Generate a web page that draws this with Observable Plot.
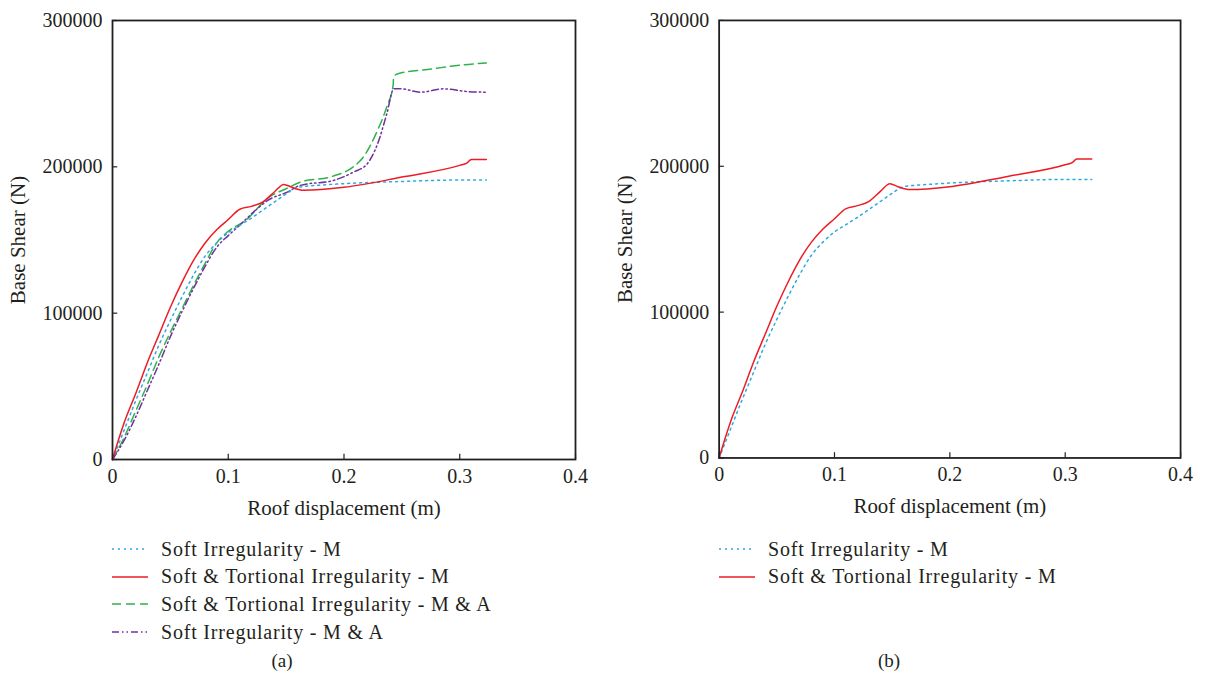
<!DOCTYPE html>
<html>
<head>
<meta charset="utf-8">
<script src="https://cdn.jsdelivr.net/npm/d3@7"></script>
<script src="https://cdn.jsdelivr.net/npm/@observablehq/plot@0.6"></script>
<style>
  html, body { margin: 0; padding: 0; background: #fff; }
  #wrap { position: relative; width: 1205px; height: 684px; font-family: "Liberation Serif", serif; color: #231f20; }
  .panel { position: absolute; top: 0; }
  .legend { position: absolute; font-size: 20px; letter-spacing: 0.8px; }
  .legend .row { position: absolute; white-space: nowrap; display: flex; align-items: center; height: 26px; }
  .legend svg { margin-right: 13px; }
  .cap { position: absolute; font-size: 19px; transform: translateX(-50%); }
</style>
</head>
<body>
<div id="wrap"></div>
<script>
// ---- Data ----
const xSoftM = [0, 0.01, 0.02, 0.03, 0.04, 0.05, 0.06, 0.07, 0.08, 0.09, 0.1, 0.11, 0.12, 0.13, 0.14, 0.15, 0.16, 0.18, 0.2, 0.25, 0.3, 0.323];
const ySoftM = [0, 20000, 40000, 59000, 78000, 95000, 111000, 126000, 139000, 148000, 155000, 160000, 165000, 170500, 176000, 181500, 186000, 187500, 188500, 190000, 191000, 191000];

const xSoftTortM = [0, 0.005, 0.01, 0.02, 0.03, 0.04, 0.05, 0.06, 0.07, 0.08, 0.09, 0.1, 0.11, 0.12, 0.13, 0.14, 0.148, 0.155, 0.165, 0.2, 0.25, 0.3, 0.306, 0.31, 0.323];
const ySoftTortM = [0, 13000, 25000, 45000, 66000, 85000, 104000, 121000, 136000, 148000, 157000, 164000, 171000, 173000, 176000, 183000, 188000, 186000, 184000, 186000, 193000, 201000, 202500, 205000, 205000];

const xSoftTortMA = [0, 0.01, 0.02, 0.03, 0.04, 0.05, 0.06, 0.07, 0.08, 0.09, 0.1, 0.116, 0.128, 0.134, 0.15, 0.162, 0.19, 0.208, 0.217, 0.229, 0.237, 0.2425, 0.2428, 0.246, 0.277, 0.3, 0.323];
const ySoftTortMA = [0, 15000, 33000, 51000, 70000, 87000, 103000, 119000, 134000, 148000, 156000, 164000, 174000, 178500, 185000, 189500, 193500, 200000, 207000, 225000, 241000, 256000, 261000, 263500, 267000, 269500, 271000];

const xSoftMA = [0, 0.01, 0.02, 0.03, 0.04, 0.05, 0.06, 0.07, 0.08, 0.09, 0.1, 0.108, 0.125, 0.134, 0.151, 0.162, 0.191, 0.208, 0.22, 0.229, 0.237, 0.243, 0.249, 0.266, 0.286, 0.306, 0.323];
const ySoftMA = [0, 13000, 29000, 47000, 65000, 84000, 101000, 117000, 132000, 145000, 153000, 158700, 171300, 177000, 182700, 187300, 190700, 196300, 202000, 215700, 236300, 253300, 253300, 251000, 253300, 251500, 251000];

const xTicks = [0, 0.1, 0.2, 0.3, 0.4];
const yTicks = [0, 100000, 200000, 300000];

const seriesNames = [
  "Soft Irregularity - M",
  "Soft & Tortional Irregularity - M",
  "Soft & Tortional Irregularity - M & A",
  "Soft Irregularity - M & A"
];
const seriesColors = ["#29abe2", "#ed1c24", "#2db34a", "#7030a0"];
const seriesDash = ["2,4", null, "9,5", "7,3,1.5,3,1.5,3"];

// ---- Build tables ----
const toRows = (xs, ys) => xs.map((x, i) => ({x, y: ys[i]}));
const series = [
  toRows(xSoftM, ySoftM),
  toRows(xSoftTortM, ySoftTortM),
  toRows(xSoftTortMA, ySoftTortMA),
  toRows(xSoftMA, ySoftMA)
];

const ink = "#231f20";
const font = "Liberation Serif, Times New Roman, serif";
const rank = {2: 0, 3: 1, 0: 2, 1: 3};

function makePlot(which) {
  const drawOrder = which.slice().sort((a, b) => rank[a] - rank[b]);
  return Plot.plot({
    width: 600,
    height: 530,
    marginLeft: 112,
    marginRight: 25,
    marginTop: 20,
    marginBottom: 71,
    style: {fontFamily: font, fontSize: "20px", color: ink, background: "white"},
    x: {domain: [0, 0.4]},
    y: {domain: [0, 300000]},
    marks: [
      ...drawOrder.map(i => Plot.line(series[i], {
        x: "x", y: "y",
        stroke: seriesColors[i],
        strokeWidth: 1.5,
        strokeDasharray: seriesDash[i] || undefined,
        curve: "monotone-x"
      })),
      Plot.frame({stroke: ink, strokeWidth: 1.8}),
      Plot.ruleY(yTicks, {y: d => d, x1: 0, x2: 0.0045, stroke: ink, strokeWidth: 1.2}),
      Plot.ruleX(xTicks, {x: d => d, y1: 0, y2: 3600, stroke: ink, strokeWidth: 1.2}),
      Plot.axisY(yTicks, {tickSize: 0, tickPadding: 10, tickFormat: d => String(d), label: null, fill: ink, fontSize: 20}),
      Plot.axisX(xTicks, {tickSize: 0, tickPadding: 9, tickFormat: d => String(d), label: null, fill: ink, fontSize: 20}),
      Plot.text(["Base Shear (N)"], {frameAnchor: "left", textAnchor: "middle", dx: -94, rotate: -90, fill: ink, fontSize: 21}),
      Plot.text(["Roof displacement (m)"], {frameAnchor: "bottom", textAnchor: "middle", dy: 55, fill: ink, fontSize: 21})
    ]
  });
}

function legendSwatch(i) {
  const ns = "http://www.w3.org/2000/svg";
  const svg = document.createElementNS(ns, "svg");
  svg.setAttribute("width", 36);
  svg.setAttribute("height", 6);
  const line = document.createElementNS(ns, "line");
  line.setAttribute("x1", 0); line.setAttribute("x2", 36);
  line.setAttribute("y1", 3); line.setAttribute("y2", 3);
  line.setAttribute("stroke", seriesColors[i]);
  line.setAttribute("stroke-width", 1.5);
  if (seriesDash[i]) line.setAttribute("stroke-dasharray", seriesDash[i]);
  svg.appendChild(line);
  return svg;
}

function addPanel(left, which, caption) {
  const wrap = document.getElementById("wrap");
  const div = document.createElement("div");
  div.className = "panel";
  div.style.left = left + "px";
  div.appendChild(makePlot(which));
  wrap.appendChild(div);

  const leg = document.createElement("div");
  leg.className = "legend";
  leg.style.left = (left + 112) + "px";
  leg.style.top = "536px";
  which.forEach((i, k) => {
    const row = document.createElement("div");
    row.className = "row";
    row.style.top = (k * 27.7) + "px";
    row.appendChild(legendSwatch(i));
    const t = document.createElement("span");
    t.textContent = seriesNames[i];
    row.appendChild(t);
    leg.appendChild(row);
  });
  wrap.appendChild(leg);

  const cap = document.createElement("div");
  cap.className = "cap";
  cap.style.left = (left + 282) + "px";
  cap.style.top = "650px";
  cap.textContent = caption;
  wrap.appendChild(cap);
}

addPanel(0, [0, 1, 2, 3], "(a)");
addPanel(607, [0, 1], "(b)");
</script>
</body>
</html>
